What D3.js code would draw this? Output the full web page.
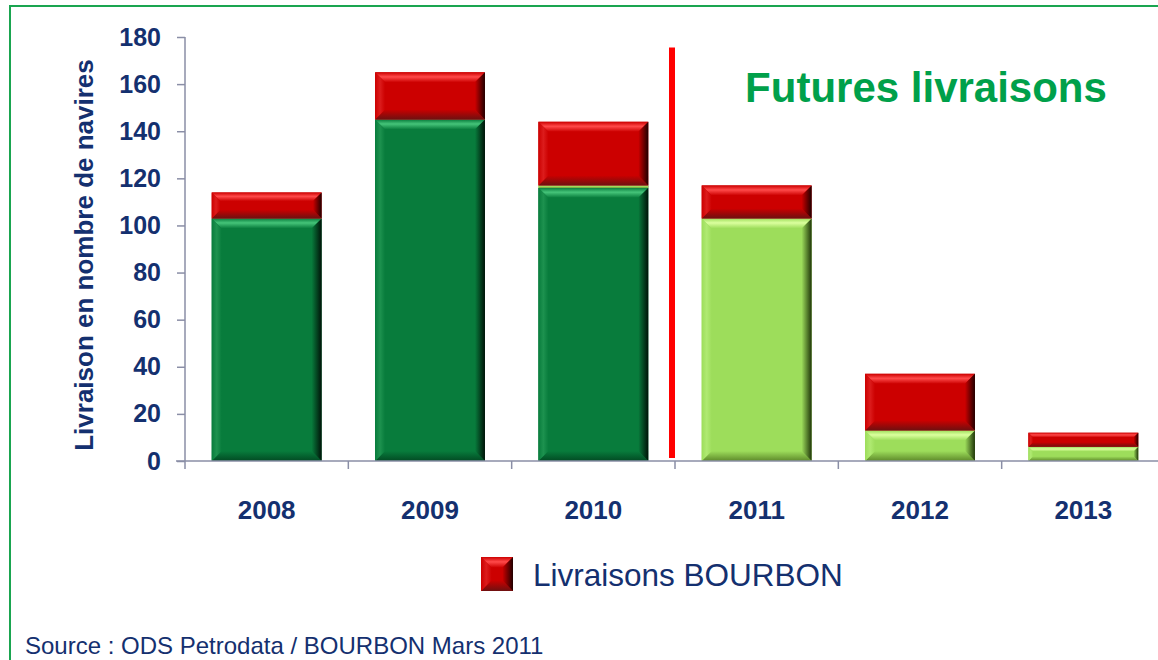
<!DOCTYPE html>
<html>
<head>
<meta charset="utf-8">
<script src="https://cdn.jsdelivr.net/npm/d3@7"></script>
<style>
  html, body { margin: 0; padding: 0; background: #fff; }
  svg { display: block; font-family: "Liberation Sans", Arial, sans-serif; }
</style>
</head>
<body>
<svg id="chart" width="1158" height="660"></svg>
<script>
// Deliveries of offshore vessels per year (number of ships)
const years = ["2008", "2009", "2010", "2011", "2012", "2013"];
const livraisons = [103, 145, 116, 0, 0, 0];      // delivered
const futures = [0, 0, 1, 103, 13, 6];            // scheduled deliveries
const bourbon = [11, 20, 27, 14, 24, 6];          // BOURBON deliveries
const yTicks = [0, 20, 40, 60, 80, 100, 120, 140, 160, 180];

const seriesKeys = ["livraisons", "futures", "bourbon"];
const seriesValues = { livraisons, futures, bourbon };

const palette = {
  livraisons: { base: "#087c3c", hi: "#45c479", lo: "#024a23", side: "#001208", left: "#1d924f" },
  futures:    { base: "#9ddd5b", hi: "#dbff9e", lo: "#5e8a2a", side: "#1f3509", left: "#b0ea72" },
  bourbon:    { base: "#cc0000", hi: "#ff4a4a", lo: "#6e1010", side: "#200000", left: "#dc1c1c" }
};

const navy = "#14306f";
const svg = d3.select("#chart");

const table = years.map((yr, i) => {
  const row = { year: yr };
  seriesKeys.forEach(k => row[k] = seriesValues[k][i]);
  return row;
});
const stacked = d3.stack().keys(seriesKeys)(table);

const x = d3.scaleBand().domain(years).range([185, 1165]).paddingInner(0.327).paddingOuter(0.1635);
const y = d3.scaleLinear().domain([0, 180]).range([461, 37]);

// gradients for the bevel faces
const defs = svg.append("defs");
seriesKeys.forEach(k => {
  const c = palette[k];
  const gTop = defs.append("linearGradient").attr("id", `top-${k}`).attr("x1", 0).attr("y1", 0).attr("x2", 0).attr("y2", 1);
  gTop.append("stop").attr("offset", 0).attr("stop-color", c.base);
  gTop.append("stop").attr("offset", 0.45).attr("stop-color", c.hi);
  gTop.append("stop").attr("offset", 1).attr("stop-color", c.base);
  const gBot = defs.append("linearGradient").attr("id", `bot-${k}`).attr("x1", 0).attr("y1", 0).attr("x2", 0).attr("y2", 1);
  gBot.append("stop").attr("offset", 0).attr("stop-color", c.base);
  gBot.append("stop").attr("offset", 1).attr("stop-color", c.lo);
  const gSide = defs.append("linearGradient").attr("id", `side-${k}`).attr("x1", 0).attr("y1", 0).attr("x2", 1).attr("y2", 0);
  gSide.append("stop").attr("offset", 0).attr("stop-color", c.base);
  gSide.append("stop").attr("offset", 1).attr("stop-color", c.side);
  const gLeft = defs.append("linearGradient").attr("id", `left-${k}`).attr("x1", 0).attr("y1", 0).attr("x2", 1).attr("y2", 0);
  gLeft.append("stop").attr("offset", 0).attr("stop-color", c.base);
  gLeft.append("stop").attr("offset", 0.5).attr("stop-color", c.left);
  gLeft.append("stop").attr("offset", 1).attr("stop-color", c.base);
});

// draws one bevelled block
function bevel(g, key, bx, by, bw, bh, maxB) {
  const b = Math.min(maxB, bh / 3, bw / 3);
  const c = palette[key];
  g.append("rect").attr("x", bx).attr("y", by).attr("width", bw).attr("height", bh).attr("fill", c.base);
  const faces = [
    { id: `top-${key}`, pts: [[bx, by], [bx + bw, by], [bx + bw - b, by + b], [bx + b, by + b]] },
    { id: `bot-${key}`, pts: [[bx, by + bh], [bx + bw, by + bh], [bx + bw - b, by + bh - b], [bx + b, by + bh - b]] },
    { id: `left-${key}`, pts: [[bx, by], [bx + b, by + b], [bx + b, by + bh - b], [bx, by + bh]] },
    { id: `side-${key}`, pts: [[bx + bw, by], [bx + bw - b, by + b], [bx + bw - b, by + bh - b], [bx + bw, by + bh]] }
  ];
  faces.forEach(f => {
    g.append("polygon").attr("points", f.pts.map(p => p.join(",")).join(" ")).attr("fill", `url(#${f.id})`);
  });
}

// frame lines
svg.append("line").attr("x1", 10).attr("y1", 6).attr("x2", 1158).attr("y2", 6).attr("stroke", "#1aa550").attr("stroke-width", 2);
svg.append("line").attr("x1", 10).attr("y1", 5).attr("x2", 10).attr("y2", 660).attr("stroke", "#1aa550").attr("stroke-width", 2);

// bars
const barsG = svg.append("g");
stacked.forEach(layer => {
  layer.forEach(d => {
    const h = y(d[0]) - y(d[1]);
    if (h <= 0.01) return;
    const g = barsG.append("g");
    bevel(g, layer.key, x(d.data.year), y(d[1]), x.bandwidth(), h, 10);
  });
});

// axes
const axisColor = "#8a8ea6";
const yAxis = svg.append("g").attr("transform", "translate(185,0)")
  .call(d3.axisLeft(y).tickValues(yTicks).tickSize(8).tickPadding(16));
const xAxis = svg.append("g").attr("transform", `translate(0,${y(0)})`)
  .call(d3.axisBottom(x).tickSize(0).tickPadding(40));
// tick marks at category boundaries
const bounds = years.map(yr => x(yr) - x.step() * x.paddingInner() / 2);
xAxis.selectAll(".bound").data(bounds).enter().append("line")
  .attr("x1", d => d).attr("x2", d => d).attr("y1", 0).attr("y2", 8).attr("stroke", axisColor).attr("stroke-width", 1.5);

[yAxis, xAxis].forEach(a => {
  a.select(".domain").attr("stroke", axisColor).attr("stroke-width", 1.5);
  a.selectAll(".tick line").attr("stroke", axisColor).attr("stroke-width", 1.5);
  a.selectAll(".tick text").attr("fill", navy).attr("font-size", 25).attr("font-weight", "bold")
    .attr("font-family", "'Liberation Sans', Arial, sans-serif");
});
xAxis.selectAll(".tick text").attr("font-size", 26);
xAxis.select(".domain").attr("d", `M176,0H1165`);
yAxis.select(".domain").attr("d", `M0,${y(180)}V${y(0)}`);

// y axis title
svg.append("text")
  .attr("transform", `translate(93,${(y(0) + y(180)) / 2 + 6}) rotate(-90)`)
  .attr("text-anchor", "middle").attr("fill", navy).attr("font-size", 26).attr("font-weight", "bold")
  .text("Livraison en nombre de navires");

// separator between delivered and future years
const sepX = x("2011") - x.step() * x.paddingInner() / 2 - 3;
svg.append("line").attr("x1", sepX).attr("x2", sepX).attr("y1", y(175.5)).attr("y2", y(1.3))
  .attr("stroke", "#ff0000").attr("stroke-width", 6);

svg.append("text").attr("x", 926).attr("y", 102).attr("text-anchor", "middle")
  .attr("fill", "#00a04a").attr("font-size", 42).attr("font-weight", "bold")
  .text("Futures livraisons");

// legend
const legG = svg.append("g");
bevel(legG, "bourbon", 481, 557, 32, 34, 16);
legG.append("text").attr("x", 533).attr("y", 586).attr("fill", navy).attr("font-size", 31.5)
  .text("Livraisons BOURBON");

// source
svg.append("text").attr("x", 25).attr("y", 654).attr("fill", navy).attr("font-size", 24)
  .text("Source : ODS Petrodata / BOURBON Mars 2011");
</script>
</body>
</html>
